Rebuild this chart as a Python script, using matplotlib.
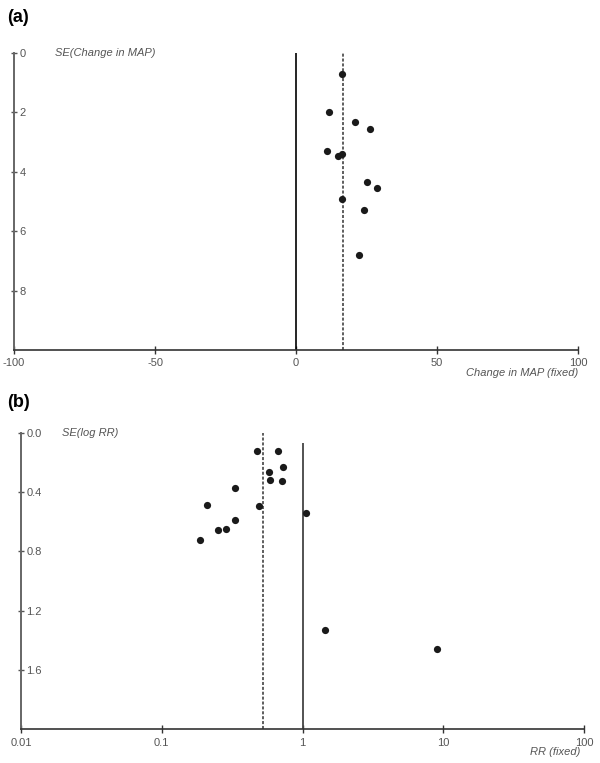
import matplotlib
matplotlib.use("Agg")
import matplotlib.pyplot as plt
import numpy as np

# ---- Panel (a) data: change in MAP vs SE ----
map_change = [16.2, 11.7, 20.9, 26.2, 10.9, 16.2, 15.0, 25.1, 28.7, 16.2, 24.1, 22.2]
map_se = [0.71, 2.00, 2.33, 2.55, 3.29, 3.39, 3.48, 4.34, 4.55, 4.93, 5.30, 6.80]
map_pooled = 16.8
map_xticks = [-100, -50, 0, 50, 100]
map_yticks = [0, 2, 4, 6, 8]

# ---- Panel (b) data: RR vs SE(log RR) ----
rr = [0.478, 0.674, 0.582, 0.732, 0.591, 0.720, 0.334, 0.209, 0.492, 1.055,
      0.334, 0.288, 0.252, 0.186, 1.455, 9.05]
rr_se = [0.123, 0.123, 0.267, 0.229, 0.317, 0.326, 0.371, 0.490, 0.496, 0.539,
         0.587, 0.647, 0.654, 0.722, 1.330, 1.461]
rr_pooled = 0.527
rr_xticks = [0.01, 0.1, 1, 10, 100]
rr_xticklabels = ["0.01", "0.1", "1", "10", "100"]
rr_yticks = [0.0, 0.4, 0.8, 1.2, 1.6]
rr_yticklabels = ["0.0", "0.4", "0.8", "1.2", "1.6"]

plt.rcParams['font.family'] = ['Liberation Sans', 'DejaVu Sans']

W, H = 600, 763
fig = plt.figure(figsize=(W / 100, H / 100), dpi=100)

tick_color = "#555555"
mk_color = "#1a1a1a"
FS = 8


def style_axes(ax):
    for s in ["top", "right"]:
        ax.spines[s].set_visible(False)
    ax.spines["left"].set_color("#666666")
    ax.spines["left"].set_linewidth(1.4)
    ax.spines["bottom"].set_color("#333333")
    ax.spines["bottom"].set_linewidth(1.2)
    ax.tick_params(axis="y", direction="inout", length=5, width=1.0,
                   colors="#555555", labelsize=FS, pad=-6.5, labelcolor=tick_color)
    ax.tick_params(axis="x", direction="inout", length=6, width=1.0,
                   colors="#333333", labelsize=FS, pad=3, labelcolor=tick_color)
    for lab in ax.get_yticklabels():
        lab.set_horizontalalignment("left")


# Panel (a)
axa = fig.add_axes([14 / W, 1 - 350 / H, (578 - 14) / W, (350 - 53) / H])
axa.set_xlim(-100, 100)
axa.set_ylim(10, 0)
axa.set_xticks(map_xticks)
axa.set_xticklabels([str(v) for v in map_xticks])
axa.set_yticks(map_yticks)
axa.set_yticklabels([str(v) for v in map_yticks])
axa.plot([0, 0], [10, 0], color="black", lw=1.2, solid_capstyle="butt")
axa.plot([map_pooled, map_pooled], [10, 0], color="#333333", lw=1.1,
         linestyle=(0, (2, 1.2)))
axa.plot(map_change, map_se, "o", color=mk_color, ms=5.2, mew=0)
style_axes(axa)

fig.text(7 / W, 1 - 17 / H, "(a)", fontsize=13, fontweight="bold", va="center", ha="left")
fig.text(55 / W, 1 - 53 / H, "SE(Change in MAP)", fontsize=FS, style="italic",
         color=tick_color, va="center", ha="left")
fig.text(578 / W, 1 - 373 / H, "Change in MAP (fixed)", fontsize=FS, style="italic",
         color=tick_color, va="center", ha="right")

# Panel (b)
axb = fig.add_axes([21 / W, 1 - 729.3 / H, (584 - 21) / W, (729.3 - 432.7) / H])
axb.set_xscale("log")
axb.set_xlim(0.01, 100)
axb.set_ylim(2.0, 0)
axb.set_xticks(rr_xticks)
axb.set_xticklabels(rr_xticklabels)
axb.minorticks_off()
axb.set_yticks(rr_yticks)
axb.set_yticklabels(rr_yticklabels)
axb.plot([1, 1], [2.0, 0.07], color="#444444", lw=1.3, solid_capstyle="butt")
axb.plot([rr_pooled, rr_pooled], [2.0, 0], color="#333333", lw=1.1,
         linestyle=(0, (2, 1.2)))
axb.plot(rr, rr_se, "o", color=mk_color, ms=5.2, mew=0)
style_axes(axb)

fig.text(7 / W, 1 - 402 / H, "(b)", fontsize=13, fontweight="bold", va="center", ha="left")
fig.text(62 / W, 1 - 433 / H, "SE(log RR)", fontsize=FS, style="italic",
         color=tick_color, va="center", ha="left")
fig.text(580 / W, 1 - 752 / H, "RR (fixed)", fontsize=FS, style="italic",
         color=tick_color, va="center", ha="right")

fig.savefig("out.png", dpi=100)
